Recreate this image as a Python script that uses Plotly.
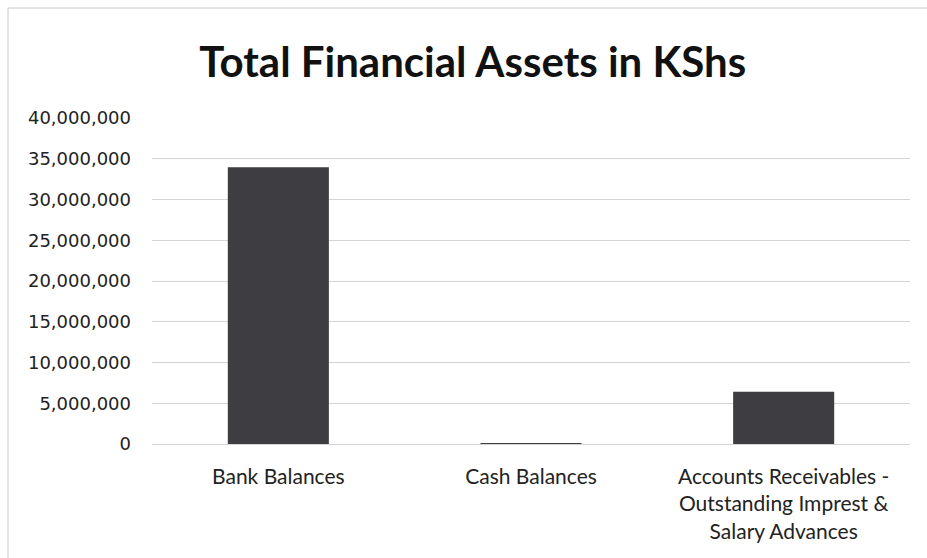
import plotly.graph_objects as go

categories = ["Bank Balances", "Cash Balances",
              "Accounts Receivables -<br>Outstanding Imprest &<br>Salary Advances"]
values = [33950000, 60000, 6420000]
tick_vals = [0, 5000000, 10000000, 15000000, 20000000, 25000000, 30000000, 35000000, 40000000]
tick_text = ["0", "5,000,000", "10,000,000", "15,000,000", "20,000,000",
             "25,000,000", "30,000,000", "35,000,000", "40,000,000"]

W, H = 927, 558
L, R, T, B = 152, 17, 118, 114
pw, ph = W - L - R, H - T - B

fig = go.Figure()
fig.add_trace(go.Bar(
    x=categories, y=values,
    marker=dict(color="#3d3d42", line=dict(width=0)),
    width=0.4,
))

border = dict(color="#c8c8c8", width=1)
fig.update_layout(
    width=W, height=H,
    margin=dict(l=L, r=R, t=T, b=B),
    paper_bgcolor="white", plot_bgcolor="white",
    showlegend=False,
    title=dict(text="<b>Total Financial Assets in KShs</b>",
               x=0.51, xanchor="center", y=0.889, yanchor="middle",
               font=dict(family="Lato, Open Sans, sans-serif", size=42, color="#111111")),
    xaxis=dict(showline=False, ticks="", showgrid=False, ticklabelstandoff=18,
               tickfont=dict(family="Lato, Open Sans, sans-serif", size=21, color="#222222")),
    yaxis=dict(range=[0, 40000000], tickvals=tick_vals, ticktext=tick_text,
               showgrid=True, gridcolor="#d4d4d4", gridwidth=1,
               zeroline=True, zerolinecolor="#d4d4d4", zerolinewidth=1,
               showline=False, ticks="", ticklabelstandoff=20,
               tickfont=dict(family="DejaVu Sans, Verdana, sans-serif", size=18, color="#222222")),
    shapes=[
        dict(type="line", xref="paper", yref="paper",
             x0=(8 - L) / pw, x1=(W - L) / pw, y0=(H - 8 - B) / ph, y1=(H - 8 - B) / ph,
             line=border),
        dict(type="line", xref="paper", yref="paper",
             x0=(8 - L) / pw, x1=(8 - L) / pw, y0=-B / ph, y1=(H - 8 - B) / ph,
             line=border),
    ],
)

fig.write_html("out.html")
